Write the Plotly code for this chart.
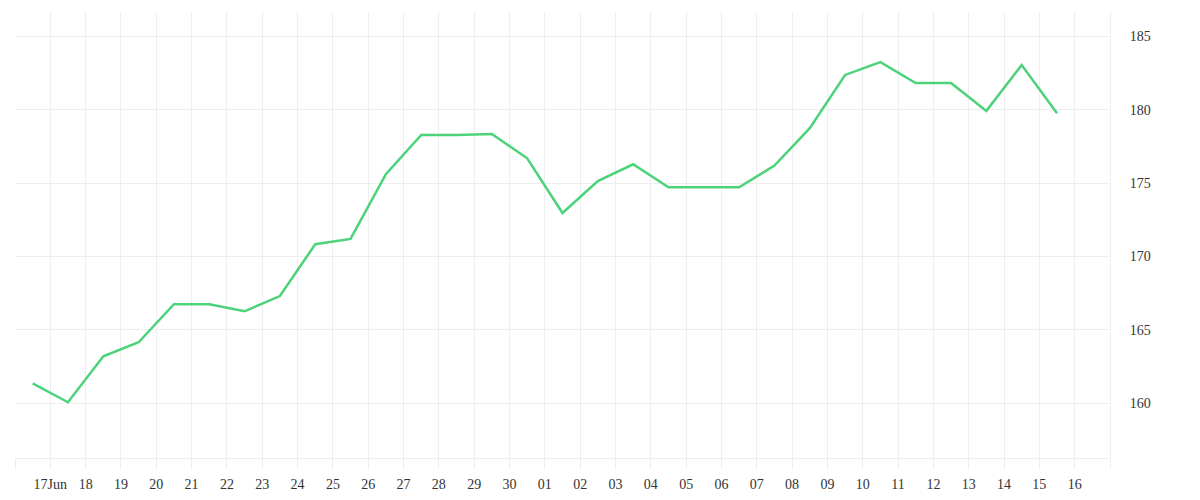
import plotly.graph_objects as go
import pandas as pd

dates = pd.date_range("2023-06-16 12:00", periods=30, freq="D")
values = [161.36, 160.07, 163.2, 164.16, 166.75, 166.75, 166.27, 167.31, 170.84, 171.2,
          175.61, 178.29, 178.29, 178.36, 176.7, 172.97, 175.15, 176.29, 174.72, 174.72,
          174.72, 176.2, 178.75, 182.38, 183.25, 181.83, 181.83, 179.93, 183.06, 179.77]

tick_dates = pd.date_range("2023-06-16", "2023-07-17", freq="D")
tick_labels = [""] + ["17Jun"] + [d.strftime("%d") for d in tick_dates[2:-1]] + [""]
y_ticks = [160, 165, 170, 175, 180, 185]

grid = "#eeeeee"
font = dict(family="Liberation Serif, serif", size=14, color="#333333")

fig = go.Figure(go.Scatter(x=dates, y=values, mode="lines",
                           line=dict(color="#4cd37a", width=2.5),
                           hoverinfo="skip"))
fig.update_layout(
    width=1200, height=500,
    margin=dict(l=7, r=98, t=4, b=50),
    paper_bgcolor="white", plot_bgcolor="white",
    showlegend=False, font=font,
    xaxis=dict(type="date", range=[tick_dates[0], tick_dates[-1]],
               tickmode="array", tickvals=list(tick_dates), ticktext=tick_labels,
               showgrid=True, gridcolor=grid, gridwidth=1,
               ticks="outside", ticklen=10, tickcolor=grid, tickwidth=1,
               showline=True, linecolor=grid, linewidth=1,
               zeroline=False, tickfont=font, ticklabelstandoff=3),
    yaxis=dict(side="right", range=[156.27, 186.67],
               tickmode="array", tickvals=y_ticks,
               showgrid=True, gridcolor=grid, gridwidth=1,
               ticks="", showline=True, linecolor=grid, linewidth=1,
               zeroline=False, tickfont=font, ticklabelstandoff=16),
)
fig.write_html("out.html")
